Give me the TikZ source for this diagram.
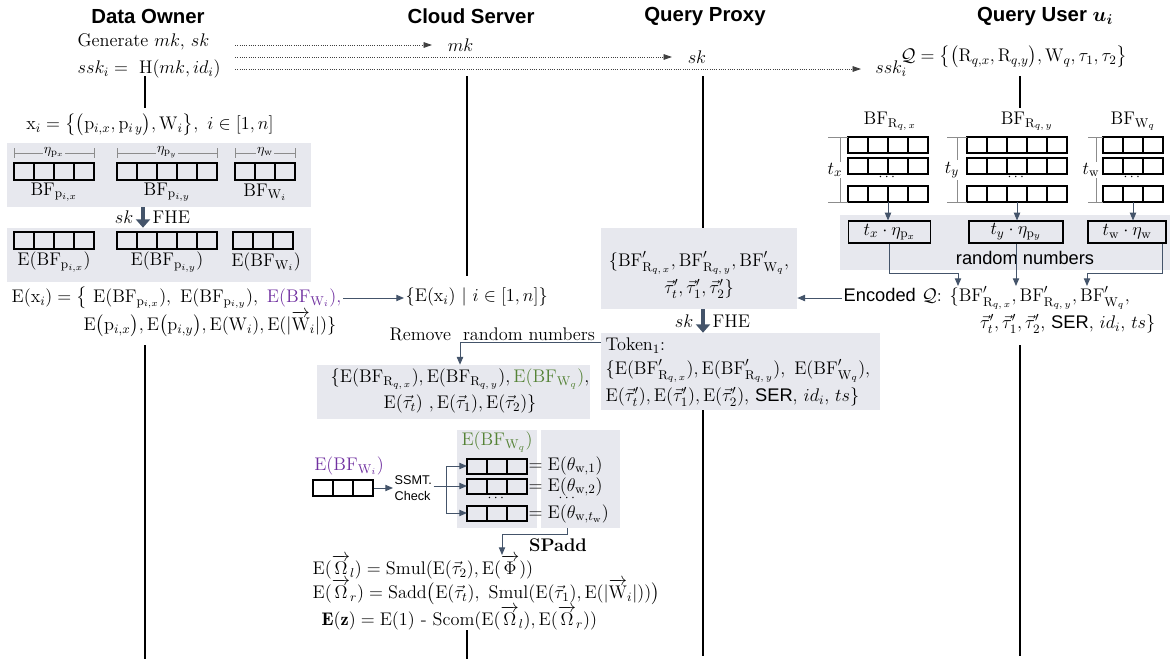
\documentclass[tikz,border=0pt]{standalone}
\usepackage{fix-cm}
\usepackage{amsmath}
\usepackage{amssymb}
\usepackage{fontspec}
\setsansfont{Liberation Sans}
\usetikzlibrary{arrows.meta,positioning,fit}
\definecolor{P}{RGB}{231, 232, 238}
\definecolor{L}{RGB}{68, 84, 106}
\definecolor{V}{RGB}{112, 48, 160}
\definecolor{G}{RGB}{84, 130, 53}
\definecolor{S}{RGB}{140, 140, 140}
\newcommand{\Enc}{\mathrm{E}}
\newcommand{\BF}{\mathrm{BF}}
% one row of filter cells: [height]{left}{top}{number of cells}
\newcommand{\cellrow}[4][17]{\foreach \cc in {1,...,#4} \draw[cell] ({#2+(\cc-1)*20},#3) rectangle ++(20,#1);}
\tikzset{
  head/.style={font=\sffamily\bfseries\fontsize{14.5}{17}\selectfont},
  life/.style={line width=1.1pt},
  key/.style={densely dotted, line width=0.6pt, color=black!75, -{Triangle[length=6pt,width=4pt]}},
  flow/.style={color=L, line width=0.7pt, -{Triangle[length=5.5pt,width=4.5pt]}},
  link/.style={color=L, line width=0.7pt},
  fat/.style={color=L, line width=3.5pt, -{Triangle[length=6pt,width=10pt]}},
  cell/.style={line width=0.9pt},
  panel/.style={fill=P, inner sep=0pt},
  span/.style={color=S, line width=0.6pt},
  small/.style={font=\fontsize{10}{12}\selectfont},
  sans/.style={font=\sffamily\fontsize{13}{15}\selectfont},
  rn/.style={draw, line width=0.8pt, minimum height=0.55cm, inner sep=0pt}
}

\begin{document}
\begin{tikzpicture}[x=0.025cm, y=-0.025cm, every node/.style={font=\fontsize{13}{15}\selectfont, inner sep=1pt}]
  \useasboundingbox (0,0) rectangle (1170,659);

  % parties
  \node[head] (owner) at (148,16) {Data Owner};
  \node[head] (cloud) at (471,16) {Cloud Server};
  \node[head] (proxy) at (705,16) {Query Proxy};
  \node[head] (user) at (1045,16) {Query User $\boldsymbol{u_i}$};

  % key set-up
  \node[anchor=west] (gen) at (76,42) {Generate $mk$, $sk$};
  \node[anchor=west] (ssk) at (76,69) {$ssk_i =\ \mathrm{H}(mk, id_i)$};
  \node[anchor=west, inner xsep=11pt] (mk) at (432,45) {$mk$};
  \node[anchor=west, inner xsep=11pt] (sk) at (672,57) {$sk$};
  \node[anchor=west, inner xsep=10pt] (sski) at (861,69) {$ssk_i$};
  \coordinate (k1) at (235,45);
  \coordinate (k2) at (235,57);
  \coordinate (k3) at (235,69);
  \draw[key] (k1) -- (mk.west);
  \draw[key] (k2) -- (sk.west);
  \draw[key] (k3) -- (sski.west);

  % lifelines
  \draw[life] (145,76) -- (145,108) (145,345) -- (145,659);
  \draw[life] (467,76) -- (467,276) (467,630) -- (467,659);
  \draw[life] (703,76) -- (703,228) (703,410) -- (703,656);
  \draw[life] (1020,76) -- (1020,108) (1020,345) -- (1020,656);

  % data owner
  \node (xi) at (150,125) {$\mathrm{x}_i = \big\{\big(\mathrm{p}_{i,x}, \mathrm{p}_{i\,y}\big), \mathrm{W}_i\big\},\ i \in[1, n]$};
  \node[panel, fit={(7,143) (311,207)}] (plain) {};
  \foreach \a/\b/\t/\n in {14/94/{\eta_{\mathrm{p}_x}}/ex, 117/217/{\eta_{\mathrm{p}_y}}/ey, 235/295/{\eta_{\mathrm{w}}}/ew} {
    \draw[span] (\a,148) -- (\a,158) (\a,153) -- (\b,153) (\b,148) -- (\b,158);
    \node[small, fill=P] (\n) at ({(\a+\b)/2},152) {$\t$};
  }
  \cellrow{14}{163}{4}
  \cellrow{117}{163}{5}
  \cellrow{235}{163}{3}
  \node (bfx) at (54,192) {$\BF_{\mathrm{p}_{i,x}}$};
  \node (bfy) at (167,192) {$\BF_{\mathrm{p}_{i,y}}$};
  \node (bfw) at (265,192) {$\BF_{\mathrm{W}_i}$};

  \node[panel, fit={(7,228) (311,282)}] (cipher) {};
  \coordinate (a1) at (143,217);
  \draw[fat] (a1 |- plain.south) -- (a1 |- cipher.north);
  \node[anchor=east] (sk1) at (135,217) {$sk$};
  \node[anchor=west] (fhe1) at (151,217) {FHE};
  \cellrow{14}{232}{4}
  \cellrow{117}{232}{5}
  \cellrow{233}{232}{3}
  \node (ebx) at (54,262) {$\Enc(\BF_{\mathrm{p}_{i,x}})$};
  \node (eby) at (167,262) {$\Enc(\BF_{\mathrm{p}_{i,y}})$};
  \node (ebw0) at (266,262) {$\Enc(\BF_{\mathrm{W}_i})$};

  \node[anchor=west] (exi) at (10,298) {$\Enc(\mathrm{x}_i) = \big\{\ \Enc(\BF_{\mathrm{p}_{i,x}}),\ \Enc(\BF_{\mathrm{p}_{i,y}}),\ \textcolor{V}{\Enc(\BF_{\mathrm{W}_i}),}$};
  \node[anchor=west] (exi2) at (82,324) {$\Enc\big(\mathrm{p}_{i,x}\big), \Enc\big(\mathrm{p}_{i,y}\big), \Enc(\mathrm{W}_i), \Enc(|\overrightarrow{\mathrm{W}}_i|)\}$};
  \node[anchor=west] (exset) at (404,297) {$\{\Enc(\mathrm{x}_i)\ |\ i \in[1, n]\}$};
  \draw[flow] (exi.east) -- (exi.east -| exset.west);

  % query user
  \node (q) at (1014,57) {$\mathcal{Q} = \big\{\big(\mathrm{R}_{q,x}, \mathrm{R}_{q,y}\big), \mathrm{W}_q, \tau_1, \tau_2\big\}$};
  \node (lx) at (890,121) {$\BF_{\mathrm{R}_{q,\,x}}$};
  \node (ly) at (1027,121) {$\BF_{\mathrm{R}_{q,\,y}}$};
  \node (lw) at (1133,121) {$\BF_{\mathrm{W}_q}$};
  \foreach \r in {137,158,186} {
    \cellrow[16]{848}{\r}{4}
    \cellrow[16]{967}{\r}{5}
    \cellrow[16]{1103}{\r}{3}
  }
  \foreach \v/\a/\b/\t/\n in {840/828/848/{t_x}/tx, 957/947/967/{t_y}/ty, 1096/1088/1103/{t_{\mathrm{w}}}/tw} {
    \draw[span] (\a,137) -- (\b,137) (\a,202) -- (\b,202) (\v,137) -- (\v,202);
    \node[fill=white] (\n) at (\v-5,170) {$\t$};
  }
  \node[small] (dx) at (888,177) {$\cdots$};
  \node[small] (dy) at (1017,177) {$\cdots$};
  \node[small] (dw) at (1133,177) {$\cdots$};
  \coordinate (gx) at (888,202);
  \coordinate (gy) at (1017,202);
  \coordinate (gw) at (1133,202);

  \node[panel, fit={(840,215) (1170,270)}] (rnd) {};
  \node[rn, minimum width=2.03cm] (rx) at (889.5,232) {$t_x\cdot\eta_{\mathrm{p}_x}$};
  \node[rn, minimum width=2.35cm] (ry) at (1016,232) {$t_y\cdot\eta_{\mathrm{p}_y}$};
  \node[rn, minimum width=1.95cm] (rw) at (1127,232) {$t_{\mathrm{w}}\cdot\eta_{\mathrm{w}}$};
  \node[sans] (rnum) at (1025,258) {random numbers};
  \draw[flow] (gx) -- (gx |- rx.north);
  \draw[flow] (gy) -- (gy |- ry.north);
  \draw[flow] (gw) -- (gw |- rw.north);

  \node[anchor=west] (enc1) at (842,298) {\textsf{Encoded} $\mathcal{Q}$: $\{\BF'_{\mathrm{R}_{q,\,x}}, \BF'_{\mathrm{R}_{q,\,y}}, \BF'_{\mathrm{W}_q},$};
  \node[anchor=east] (enc2) at (1157,324) {$\vec{\tau}'_t, \vec{\tau}'_1, \vec{\tau}'_2$, \textsf{SER}, $id_i$, $ts\}$};
  \coordinate (ex) at (958,286);
  \coordinate (ey) at (1016,286);
  \coordinate (ew) at (1087,286);
  \draw[flow] (rx.south) -- ++(0,30) -| (ex);
  \draw[flow] (ry.south) -- (ey);
  \draw[flow] ([xshift=-3pt]rw.south east) -- ++(0,30) -| (ew);

  % query proxy
  \node[panel, fit={(601,228) (797,309)}] (pbox) {};
  \node (pb1) at (699,263) {$\{\BF'_{\mathrm{R}_{q,\,x}}, \BF'_{\mathrm{R}_{q,\,y}}, \BF'_{\mathrm{W}_q},$};
  \node (pb2) at (699,289) {$\vec{\tau}'_t, \vec{\tau}'_1, \vec{\tau}'_2\}$};
  \draw[flow] (enc1.west) -- (enc1.west -| pbox.east);

  \node[panel, fit={(601,333) (880,410)}] (tbox) {};
  \coordinate (a2) at (703,321);
  \draw[fat] (a2 |- pbox.south) -- (a2 |- tbox.north);
  \node[anchor=east] (sk2) at (695,321) {$sk$};
  \node[anchor=west] (fhe2) at (711,321) {FHE};
  \node[anchor=west] (tk0) at (604,346) {Token$_1$:};
  \node[anchor=west] (tk1) at (604,371) {$\{\Enc(\BF'_{\mathrm{R}_{q,\,x}}), \Enc(\BF'_{\mathrm{R}_{q,\,y}}),\ \Enc(\BF'_{\mathrm{W}_q}),$};
  \node[anchor=west] (tk2) at (604,397) {$\Enc(\vec{\tau}'_t), \Enc(\vec{\tau}'_1), \Enc(\vec{\tau}'_2)$, \textsf{SER}, $id_i$, $ts\}$};

  % cloud server
  \node[anchor=west] (remove) at (388,334) {Remove\ \ random numbers};
  \node[panel, fit={(317,365) (590,419)}] (rbox) {};
  \node (r1) at (460,379) {$\{\Enc(\BF_{\mathrm{R}_{q,\,x}}), \Enc(\BF_{\mathrm{R}_{q,\,y}}), \textcolor{G}{\Enc(\BF_{\mathrm{W}_q})},$};
  \node (r2) at (460,404) {$\Enc(\vec{\tau}_t)\ , \Enc(\vec{\tau}_1), \Enc(\vec{\tau}_2)\}$};
  \draw[flow] (tbox.west |- remove.south) -| (r1.north |- rbox.north);

  % matching of the keyword filters
  \node[text=V] (ebw) at (349,466) {$\Enc(\BF_{\mathrm{W}_i})$};
  \cellrow[16]{313}{480}{3}
  \coordinate (eo) at (374,488);
  \node[anchor=west, align=left, font=\sffamily\fontsize{9}{11}\selectfont] (ssmt) at (393,488) {SSMT.\\Check};
  \draw[flow] (eo) -- (ssmt.west);

  \node[panel, fit={(457,430) (537,528)}] (pa) {};
  \node[panel, fit={(541,430) (620,528)}] (pb) {};
  \node[text=G] (ebq) at (497,442) {$\Enc(\BF_{\mathrm{W}_q})$};
  \cellrow[15]{467}{459}{3}
  \cellrow[15]{467}{479}{3}
  \cellrow[15]{467}{506}{3}
  \coordinate (t1) at (467,466);
  \coordinate (t2) at (467,486);
  \coordinate (t3) at (467,513);
  \coordinate (br) at (446,486);
  \draw[link] (ssmt.east |- br) -- (br);
  \foreach \t in {t1,t2,t3} \draw[flow] (br) |- (\t);
  \node[anchor=west] (th1) at (527,466) {$= \Enc(\theta_{\mathrm{w},1})$};
  \node[anchor=west] (th2) at (527,487) {$= \Enc(\theta_{\mathrm{w},2})$};
  \node[anchor=west] (th3) at (527,514) {$= \Enc(\theta_{\mathrm{w},t_{\mathrm{w}}})$};
  \node[small] (dd1) at (497,498) {$\cdots$};
  \node[small] (dd2) at (568,498) {$\cdots$};

  \coordinate (sp) at (502,555);
  \draw[flow] ([xshift=-9pt]pb.south) -- ++(0,6) -| (sp);
  \node (spadd) at (558,545) {\textbf{SPadd}};

  % scores
  \node[anchor=west] (oml) at (311,567) {$\Enc(\overrightarrow{\Omega}_l) = \mathrm{Smul}(\Enc(\vec{\tau}_2), \Enc(\overrightarrow{\Phi}))$};
  \node[anchor=west] (omr) at (311,592) {$\Enc(\overrightarrow{\Omega}_r) = \mathrm{Sadd}\big(\Enc(\vec{\tau}_t),\ \mathrm{Smul}(\Enc(\vec{\tau}_1), \Enc(|\overrightarrow{\mathrm{W}}_i|))\big)$};
  \node[anchor=west] (ez) at (320,618) {$\mathbf{E(z)} = \Enc(1)\ \text{-}\ \mathrm{Scom}(\Enc(\overrightarrow{\Omega}_l), \Enc(\overrightarrow{\Omega}_r))$};
\end{tikzpicture}
\end{document}
